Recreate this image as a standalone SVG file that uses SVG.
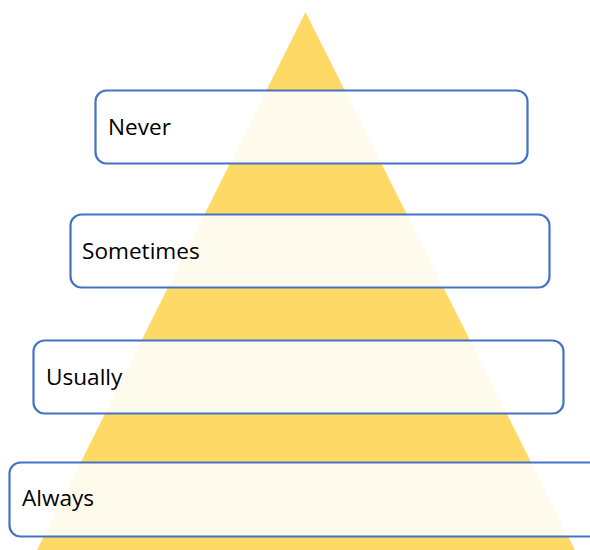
<svg xmlns="http://www.w3.org/2000/svg" width="590" height="550" viewBox="0 0 590 550">
<style>
.box{fill:#ffffff;fill-opacity:0.88;stroke:#4472C4;stroke-width:2.2}
.lbl{font-family:"Open Sans","Liberation Sans",sans-serif;font-size:22.6px;fill:#000000}
</style>
<rect width="590" height="550" fill="#ffffff"/>
<polygon id="pyramid" points="305.5,12 37,550 575,550" fill="#FFD966"/>
<g id="connectors"></g>
<g id="never">
<rect class="box" x="95.5" y="90.5" width="432" height="73" rx="11"/>
<text class="lbl" x="108" y="135">Never</text>
</g>
<g id="sometimes">
<rect class="box" x="70.5" y="214.5" width="479" height="73" rx="11"/>
<text class="lbl" x="82" y="259">Sometimes</text>
</g>
<g id="usually">
<rect class="box" x="33.5" y="340.5" width="530" height="73" rx="11"/>
<text class="lbl" x="46" y="385">Usually</text>
</g>
<g id="always">
<rect class="box" x="9.5" y="462.5" width="600" height="74" rx="11"/>
<text class="lbl" x="22" y="506">Always</text>
</g>
</svg>
